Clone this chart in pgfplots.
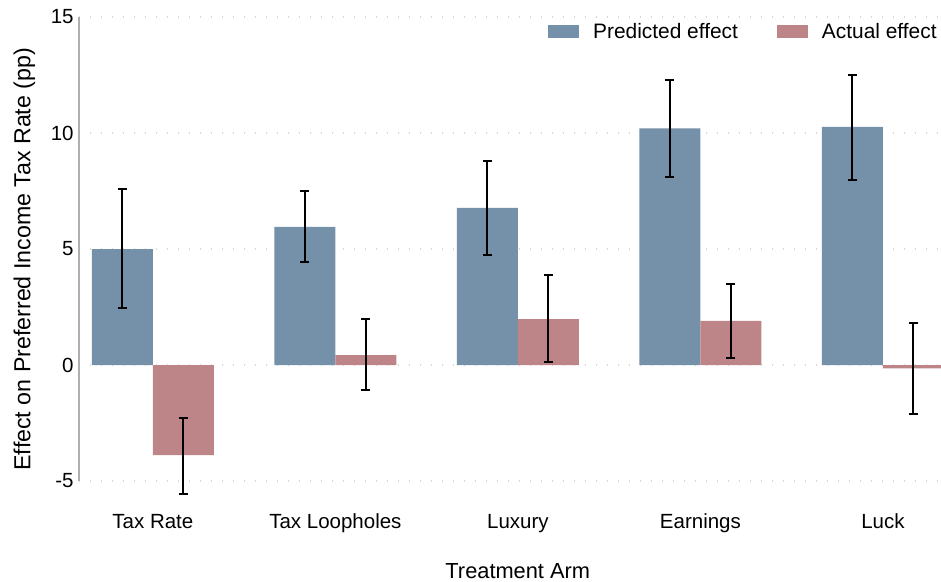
\documentclass[border=0pt]{standalone}
\usepackage{fontspec}
\setmainfont{Liberation Sans}
\usepackage{pgfplots}
\pgfplotsset{compat=1.18}
\usepackage{pgfplotstable}
\definecolor{predc}{RGB}{117,145,169}
\definecolor{actc}{RGB}{189,133,135}
\definecolor{gridc}{RGB}{215,215,215}
\definecolor{axc}{RGB}{175,175,175}

\pgfplotstableread{
x y ep em
0 5.00 2.57 2.55
1 5.95 1.55 1.53
2 6.77 2.01 2.03
3 10.20 2.08 2.10
4 10.26 2.24 2.29
}\pred
\pgfplotstableread{
x y ep em
0 -3.88 1.60 1.68
1 0.43 1.55 1.51
2 1.98 1.90 1.86
3 1.90 1.60 1.60
4 -0.15 1.96 1.95
}\act

\begin{document}
\begin{tikzpicture}
\begin{axis}[
  name=ax,
  scale only axis, width=431bp, height=232bp,
  xmin=-0.405, xmax=4.318, ymin=-5, ymax=15,
  clip=false,
  ybar=0pt, bar width=30.5bp,
  axis lines*=left,
  x axis line style={draw=none},
  y axis line style={draw=axc, line width=0.75bp},
  major tick length=0pt,
  xtick={0,1,2,3,4},
  xticklabels={Tax Rate,Tax Loopholes,Luxury,Earnings,Luck},
  ytick={-5,0,5,10,15},
  /pgf/number format/assume math mode=true,
  tick label style={font=\fontsize{10.25bp}{12bp}\selectfont},
  yticklabel style={anchor=east, inner sep=0pt, xshift=-2.5bp},
  xticklabel style={anchor=base, inner sep=0pt, yshift=-23.5bp},
  ymajorgrids,
  grid style={draw=gridc, line width=0.6bp, dash pattern=on 0.6bp off 4.9bp},
  xlabel={Treatment Arm},
  ylabel={Effect on Preferred Income Tax Rate (pp)},
  xlabel style={at={(rel axis cs:0.509,0)}, anchor=base, inner sep=0pt, yshift=-48.5bp, font=\fontsize{10.9bp}{13bp}\selectfont},
  ylabel style={at={(rel axis cs:-0.0635,0.478)}, rotate=0, anchor=center, inner sep=0pt, font=\fontsize{11.6bp}{13bp}\selectfont},
  legend columns=2,
  legend style={at={(rel axis cs:1,0.9677)}, anchor=east, xshift=-2bp, draw=none, fill=none, inner sep=0pt,
    nodes={inner sep=0pt, font=\fontsize{10.45bp}{12bp}\selectfont},
    /tikz/every odd column/.append style={column sep=7bp},
    /tikz/every even column/.append style={column sep=19.5bp}},
]
\addplot[fill=predc, draw=none,
  legend image code/.code={\fill[predc] (0bp,-3.25bp) rectangle (15.5bp,3.25bp);},
  error bars/.cd, y dir=both, y explicit,
  error bar style={draw=black, line width=1bp},
  error mark options={rotate=90, draw=black, line width=1bp, mark size=2.25bp}]
  table[x=x, y=y, y error plus=ep, y error minus=em] {\pred};
\addplot[fill=actc, draw=none,
  legend image code/.code={\fill[actc] (0bp,-3.25bp) rectangle (15.5bp,3.25bp);},
  error bars/.cd, y dir=both, y explicit,
  error bar style={draw=black, line width=1bp},
  error mark options={rotate=90, draw=black, line width=1bp, mark size=2.25bp}]
  table[x=x, y=y, y error plus=ep, y error minus=em] {\act};
\legend{Predicted effect, Actual effect}
\end{axis}
\pgfresetboundingbox
\path[use as bounding box] ([xshift=-39.5bp,yshift=-50.5bp]ax.south west) rectangle ([yshift=8.5bp]ax.north east);
\end{tikzpicture}
\end{document}
